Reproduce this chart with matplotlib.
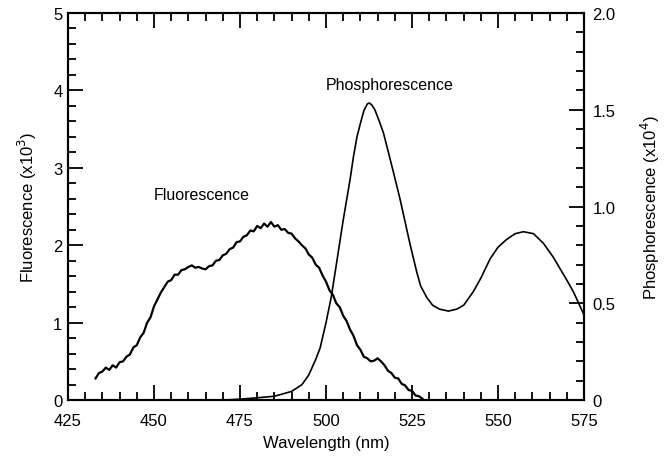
import matplotlib
matplotlib.use("Agg")
import matplotlib.pyplot as plt
from matplotlib.ticker import MultipleLocator, FixedLocator, FixedFormatter

plt.rcParams['font.family'] = ['Liberation Sans', 'DejaVu Sans']

# fluorescence spectrum, left axis (x10^3)
fluoWl = list(range(433, 529))
fluoVal = [0.28, 0.35, 0.37, 0.42, 0.39, 0.45, 0.42, 0.49, 0.50, 0.56,
           0.59, 0.68, 0.71, 0.81, 0.87, 1.00, 1.07, 1.21, 1.30, 1.39,
           1.46, 1.53, 1.55, 1.62, 1.62, 1.68, 1.69, 1.72, 1.74, 1.71,
           1.72, 1.70, 1.69, 1.73, 1.74, 1.80, 1.81, 1.87, 1.89, 1.95,
           1.97, 2.04, 2.05, 2.11, 2.13, 2.19, 2.18, 2.25, 2.22, 2.28,
           2.24, 2.30, 2.24, 2.26, 2.20, 2.21, 2.16, 2.15, 2.09, 2.05,
           2.00, 1.96, 1.88, 1.84, 1.75, 1.71, 1.61, 1.53, 1.42, 1.36,
           1.25, 1.20, 1.09, 1.02, 0.91, 0.83, 0.71, 0.65, 0.56, 0.54,
           0.50, 0.51, 0.54, 0.50, 0.45, 0.38, 0.35, 0.29, 0.28, 0.21,
           0.19, 0.13, 0.12, 0.06, 0.05, 0.02]

# phosphorescence spectrum, right axis (x10^4)
phosWl = [470, 475, 480, 485, 490, 493, 495, 497, 498.3, 500,
          501.5, 503, 505, 507, 508, 509, 510, 511, 512, 512.6,
          513.3, 514.2, 515.5, 516.7, 518, 519.7, 521.5, 523, 524.5, 526.4,
          527.5, 529.3, 531, 533, 535.6, 538, 540, 542.8, 545, 547.7,
          550, 552.5, 555, 557.4, 560.3, 563.2, 566, 568, 570, 571.9,
          575]
phosVal = [0.0, 0.005, 0.012, 0.02, 0.045, 0.08, 0.13, 0.21, 0.27, 0.40,
           0.53, 0.70, 0.93, 1.14, 1.26, 1.36, 1.43, 1.495, 1.53, 1.535,
           1.525, 1.50, 1.44, 1.38, 1.29, 1.17, 1.04, 0.92, 0.80, 0.66,
           0.59, 0.53, 0.49, 0.47, 0.46, 0.47, 0.49, 0.56, 0.63, 0.73,
           0.79, 0.83, 0.86, 0.87, 0.86, 0.81, 0.74, 0.68, 0.62, 0.56,
           0.44]

leftTicks = [0, 1, 2, 3, 4, 5]
rightTicks = [0, 0.5, 1.0, 1.5, 2.0]
rightLabels = ['0', '0.5', '1.0', '1.5', '2.0']
xTicks = [425, 450, 475, 500, 525, 550, 575]

fig = plt.figure(figsize=(6.69, 4.6), dpi=100)
ax = fig.add_axes([0.1016, 0.128, 0.7714, 0.8416])
ax2 = ax.twinx()

ax.plot(fluoWl, fluoVal, color='black', lw=1.6)
ax2.plot(phosWl, phosVal, color='black', lw=1.2)

ax.set_xlim(425, 575)
ax.set_ylim(0, 5)
ax2.set_ylim(0, 2.0)

ax.xaxis.set_major_locator(FixedLocator(xTicks))
ax.xaxis.set_minor_locator(MultipleLocator(5))
ax.yaxis.set_major_locator(FixedLocator(leftTicks))
ax.yaxis.set_minor_locator(MultipleLocator(0.2))
ax2.yaxis.set_major_locator(FixedLocator(rightTicks))
ax2.yaxis.set_major_formatter(FixedFormatter(rightLabels))
ax2.yaxis.set_minor_locator(MultipleLocator(0.1))

ax.tick_params(axis='x', which='both', direction='in', top=True, bottom=True, labelsize=12, pad=9)
ax.tick_params(axis='y', which='both', direction='in', left=True, right=False, labelsize=12, pad=4)
ax2.tick_params(axis='y', which='both', direction='in', right=True, labelsize=12, pad=6)
for a in (ax, ax2):
    a.tick_params(which='major', length=11, width=1.3)
    a.tick_params(which='minor', length=5.5, width=1.3)
    for s in a.spines.values():
        s.set_linewidth(1.5)

ax.set_xlabel('Wavelength (nm)', fontsize=12, labelpad=5)
ax.set_ylabel('Fluorescence (x10$^3$)', fontsize=12, labelpad=10)
ax2.set_ylabel('Phosphorescence (x10$^4$)', fontsize=12, labelpad=17)

ax.text(464, 2.66, 'Fluorescence', fontsize=11.5, ha='center', va='center')
ax2.text(518.6, 1.63, 'Phosphorescence', fontsize=11.5, ha='center', va='center')

fig.savefig('out.png', dpi=100)
